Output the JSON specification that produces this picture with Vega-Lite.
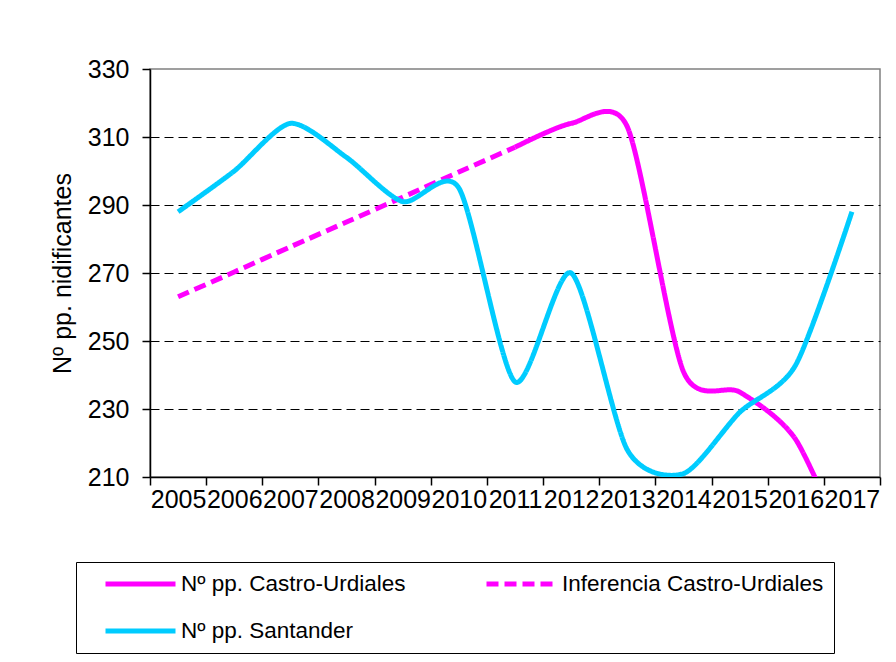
{
  "$schema": "https://vega.github.io/schema/vega-lite/v6.json",
  "width": 730,
  "height": 408,
  "autosize": {"type": "none"},
  "padding": {"left": 150, "top": 69, "right": 16, "bottom": 185},
  "background": "white",
  "config": {
    "font": "Liberation Sans",
    "view": {"stroke": "#808080", "strokeWidth": 1.5},
    "axis": {
      "domainColor": "black",
      "domainWidth": 1.5,
      "tickColor": "black",
      "tickWidth": 1.5,
      "tickSize": 8,
      "labelFont": "Liberation Sans",
      "labelFontSize": 25,
      "labelColor": "black",
      "titleFont": "Liberation Sans",
      "titleColor": "black",
      "titleFontWeight": "normal"
    },
    "legend": {
      "labelFont": "Liberation Sans"
    }
  },
  "data": {
    "values": [
      {"year": "2005", "series": "Inferencia Castro-Urdiales", "value": 263},
      {"year": "2006", "series": "Inferencia Castro-Urdiales", "value": 270.3},
      {"year": "2007", "series": "Inferencia Castro-Urdiales", "value": 277.7},
      {"year": "2008", "series": "Inferencia Castro-Urdiales", "value": 285},
      {"year": "2009", "series": "Inferencia Castro-Urdiales", "value": 292.3},
      {"year": "2010", "series": "Inferencia Castro-Urdiales", "value": 299.7},
      {"year": "2011", "series": "Inferencia Castro-Urdiales", "value": 307},
      {"year": "2011", "series": "Nº pp. Castro-Urdiales", "value": 307},
      {"year": "2012", "series": "Nº pp. Castro-Urdiales", "value": 314},
      {"year": "2013", "series": "Nº pp. Castro-Urdiales", "value": 313},
      {"year": "2014", "series": "Nº pp. Castro-Urdiales", "value": 241},
      {"year": "2015", "series": "Nº pp. Castro-Urdiales", "value": 235},
      {"year": "2016", "series": "Nº pp. Castro-Urdiales", "value": 221},
      {"year": "2017", "series": "Nº pp. Castro-Urdiales", "value": 185},
      {"year": "2005", "series": "Nº pp. Santander", "value": 288},
      {"year": "2006", "series": "Nº pp. Santander", "value": 300},
      {"year": "2007", "series": "Nº pp. Santander", "value": 314},
      {"year": "2008", "series": "Nº pp. Santander", "value": 304},
      {"year": "2009", "series": "Nº pp. Santander", "value": 291},
      {"year": "2010", "series": "Nº pp. Santander", "value": 295},
      {"year": "2011", "series": "Nº pp. Santander", "value": 238},
      {"year": "2012", "series": "Nº pp. Santander", "value": 270},
      {"year": "2013", "series": "Nº pp. Santander", "value": 218},
      {"year": "2014", "series": "Nº pp. Santander", "value": 211},
      {"year": "2015", "series": "Nº pp. Santander", "value": 229},
      {"year": "2016", "series": "Nº pp. Santander", "value": 243},
      {"year": "2017", "series": "Nº pp. Santander", "value": 288}
    ]
  },
  "mark": {"type": "line", "interpolate": "cardinal", "tension": 0.25, "strokeWidth": 5, "clip": true, "strokeCap": "butt"},
  "encoding": {
    "x": {
      "field": "year",
      "type": "ordinal",
      "bandPosition": 0.5,
      "scale": {"type": "band", "paddingInner": 0, "paddingOuter": 0},
      "axis": {
        "title": null,
        "tickBand": "extent",
        "labelAngle": 0,
        "labelPadding": 2,
        "labelOverlap": false,
        "labelBound": false,
        "grid": false
      }
    },
    "y": {
      "field": "value",
      "type": "quantitative",
      "scale": {"domain": [210, 330], "nice": false, "zero": false},
      "axis": {
        "values": [210, 230, 250, 270, 290, 310, 330],
        "title": "Nº pp. nidificantes",
        "titleFontSize": 25,
        "titleAngle": 270,
        "titleX": -88,
        "titleY": 204,
        "titleAlign": "center",
        "titleBaseline": "middle",
        "labelPadding": 13,
        "grid": true,
        "gridColor": "black",
        "gridDash": [9, 5],
        "gridWidth": 1,
        "gridOpacity": {"condition": {"test": "datum.value >= 330 || datum.value <= 210", "value": 0}, "value": 1}
      }
    },
    "color": {
      "field": "series",
      "type": "nominal",
      "scale": {
        "domain": ["Nº pp. Castro-Urdiales", "Nº pp. Santander", "Inferencia Castro-Urdiales"],
        "range": ["#ff00ff", "#00ccff", "#ff00ff"]
      },
      "legend": {
        "title": null,
        "orient": "none",
        "legendX": -74,
        "legendY": 493,
        "direction": "vertical",
        "columns": 2,
        "symbolType": "stroke",
        "symbolSize": 4900,
        "symbolStrokeWidth": 5,
        "symbolOffset": 17,
        "labelFontSize": 22.5,
        "labelColor": "black",
        "labelOffset": 3,
        "labelLimit": 400,
        "strokeColor": "black",
        "fillColor": "white",
        "padding": 10,
        "columnPadding": 61,
        "rowPadding": 23,
        "clipHeight": 24
      }
    },
    "strokeDash": {
      "field": "series",
      "type": "nominal",
      "scale": {
        "domain": ["Nº pp. Castro-Urdiales", "Nº pp. Santander", "Inferencia Castro-Urdiales"],
        "range": [[1, 0], [1, 0], [12, 6]]
      },
      "legend": {
        "title": null,
        "orient": "none",
        "legendX": -74,
        "legendY": 493,
        "direction": "vertical",
        "columns": 2,
        "symbolType": "stroke",
        "symbolSize": 4900,
        "symbolStrokeWidth": 5,
        "symbolOffset": 17,
        "labelFontSize": 22.5,
        "labelColor": "black",
        "labelOffset": 3,
        "labelLimit": 400,
        "strokeColor": "black",
        "fillColor": "white",
        "padding": 10,
        "columnPadding": 61,
        "rowPadding": 23,
        "clipHeight": 24
      }
    }
  }
}
